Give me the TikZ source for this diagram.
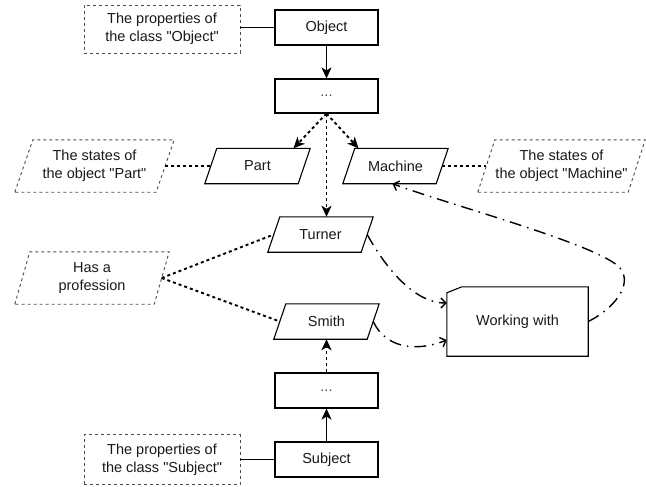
\documentclass[tikz,border=0pt]{standalone}
\usepackage{fontspec}
\setmainfont{Liberation Sans}[Ligatures=TeXOff]
\usetikzlibrary{arrows.meta}
\tikzset{
  base/.style={inner sep=0pt, align=center, text=black!90, font=\fontsize{14.5}{18}\selectfont},
  boxnode/.style={base, draw, line width=1.1pt, minimum width=103pt, minimum height=35pt, fill=white},
  paranode/.style={base, minimum width=93pt, minimum height=35pt},
  notenode/.style={base, draw=black!70, line width=0.9pt, dash pattern=on 3pt off 3pt},
  notepara/.style={base},
  solidconn/.style={line width=1.9pt},
  dotconn/.style={line width=1.9pt, dash pattern=on 3pt off 3pt},
  dashdotconn/.style={line width=1.4pt, dash pattern=on 12pt off 6pt on 1.5pt off 6pt},
  tip/.style={-{Stealth[length=11pt,width=10pt,inset=3pt]}},
  opentip/.style={-{Straight Barb[length=5pt,width=10pt]}},
}
\newcommand{\paradraw}[3]{%
  \draw[#3] ([xshift=-#2]#1.south west) -- ([xshift=#2]#1.north west) -- ([xshift=#2]#1.north east) -- ([xshift=-#2]#1.south east) -- cycle;}
\begin{document}
\begin{tikzpicture}[x=1pt,y=-1pt]
\useasboundingbox (0,0) rectangle (646,487);
% rectangles
\node[boxnode] (obj) at (326.5,27.5) {Object};
\node[boxnode, minimum height=34pt] (dots1) at (326.5,96) {\color{black!70}...};
\node[boxnode] (dots2) at (326.5,390.5) {\color{black!70}...};
\node[boxnode] (subj) at (326.5,459.5) {Subject};
% notes
\node[notenode, minimum width=156pt, minimum height=48pt] (objtxt) at (162,29) {The properties of\\the class "Object"};
\node[notenode, minimum width=156pt, minimum height=50pt] (subjtxt) at (162,459.5) {The properties of\\the class "Subject"};
% parallelograms
\node[paranode] (part) at (257.5,166) {Part};
\node[paranode] (mach) at (395.5,166) {Machine};
\node[paranode] (turner) at (320.5,234.5) {Turner};
\node[paranode] (smith) at (326.5,321.5) {Smith};
\paradraw{part}{6pt}{line width=1.1pt}
\paradraw{mach}{6pt}{line width=1.1pt}
\paradraw{turner}{6pt}{line width=1.1pt}
\paradraw{smith}{6pt}{line width=1.1pt}
% note parallelograms
\node[notepara, minimum width=141pt, minimum height=52pt] (partst) at (94.5,166) {The states of\\the object "Part"};
\node[notepara, minimum width=150pt, minimum height=52pt] (machst) at (561.5,166) {The states of\\the object "Machine"};
\node[notepara, minimum width=139pt, minimum height=52pt] (prof) at (92,278) {Has a\\profession};
\paradraw{partst}{9pt}{draw=black!70, line width=0.9pt, dash pattern=on 3pt off 3pt}
\paradraw{machst}{8.5pt}{draw=black!70, line width=0.9pt, dash pattern=on 3pt off 3pt}
\paradraw{prof}{7.5pt}{draw=black!70, line width=0.9pt, dash pattern=on 3pt off 3pt}
% working with
\node[base, minimum width=141pt, minimum height=69pt] (work) at (517.5,321.5) {Working with};
\draw[line width=1.1pt] ([yshift=-6pt]work.north west) -- ([xshift=15pt]work.north west) -- (work.north east) -- (work.south east) -- (work.south west) -- cycle;
% connectors
\draw[solidconn] (obj.west -| objtxt.east) -- (obj.west);
\draw[solidconn] (subj.west -| subjtxt.east) -- (subj.west);
\draw[solidconn, tip] (obj.south) -- (dots1.north);
\draw[solidconn, tip] (subj.north) -- (dots2.south);
\draw[dotconn, tip] (dots2.north) -- (smith.south);
\draw[dotconn, tip] (dots1.south) -- ([xshift=36pt]part.north);
\draw[dotconn, tip] (dots1.south) -- ([xshift=-37pt]mach.north);
\draw[dotconn, tip] (dots1.south) -- (dots1.south |- turner.north);
\draw[dotconn] (partst.east) -- (part.west);
\draw[dotconn] (mach.east) -- (machst.west);
\draw[dotconn] (prof.east) -- (turner.west);
\draw[dotconn] (prof.east) -- (smith.west);
\draw[dashdotconn, opentip] (turner.east) .. controls (380,258) and (410,303) .. ([yshift=18.5pt]work.west);
\draw[dashdotconn, opentip] (smith.east) .. controls (388,352) and (422,350) .. ([yshift=-18.5pt]work.west);
\draw[dashdotconn, opentip] (work.east) .. controls (612,310) and (634,285) .. (620,268) .. controls (600,245) and (450,205) .. ([xshift=-3pt]mach.south);
\end{tikzpicture}
\end{document}
